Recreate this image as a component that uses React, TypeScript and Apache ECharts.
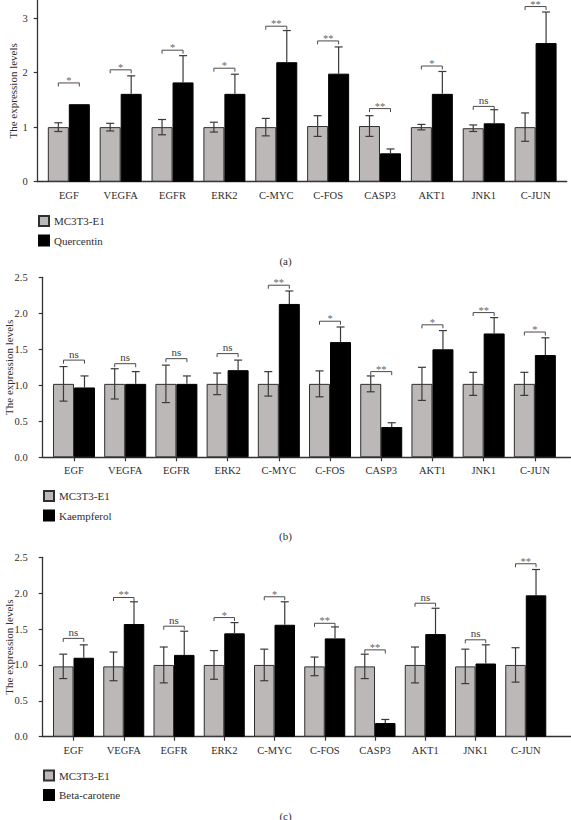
import React, { useEffect, useRef } from 'react';
import * as echarts from 'echarts';

// ---------- data ----------
const genes = ['EGF', 'VEGFA', 'EGFR', 'ERK2', 'C-MYC', 'C-FOS', 'CASP3', 'AKT1', 'JNK1', 'C-JUN'];
const controlName = 'MC3T3-E1';
const treatmentNames = ['Quercentin', 'Kaempferol', 'Beta-carotene'];
const panelLabels = ['(a)', '(b)', '(c)'];
const yTitle = 'The expression levels';

// panel (a)
const aCtrlMean = [1.0, 1.0, 1.0, 1.0, 1.0, 1.02, 1.02, 1.0, 0.98, 1.0];
const aCtrlSd = [0.08, 0.07, 0.14, 0.09, 0.16, 0.19, 0.19, 0.05, 0.06, 0.26];
const aTrtMean = [1.42, 1.61, 1.82, 1.61, 2.19, 1.98, 0.52, 1.61, 1.07, 2.54];
const aTrtSd = [0, 0.33, 0.49, 0.36, 0.58, 0.49, 0.08, 0.41, 0.25, 0.57];
const aBracket = [1.81, 2.05, 2.41, 2.08, 2.85, 2.58, 1.34, 2.12, 1.38, 3.21];
const aSig = ['*', '*', '*', '*', '**', '**', '**', '*', 'ns', '**'];

// panel (b)
const bCtrlMean = [1.02, 1.02, 1.02, 1.02, 1.02, 1.02, 1.02, 1.02, 1.02, 1.02];
const bCtrlSd = [0.24, 0.21, 0.26, 0.15, 0.17, 0.18, 0.11, 0.23, 0.16, 0.16];
const bTrtMean = [0.97, 1.02, 1.02, 1.21, 2.13, 1.6, 0.42, 1.5, 1.72, 1.42];
const bTrtSd = [0.16, 0.17, 0.11, 0.14, 0.18, 0.21, 0.06, 0.26, 0.22, 0.24];
const bBracket = [1.35, 1.3, 1.37, 1.44, 2.39, 1.89, 1.19, 1.84, 2.01, 1.74];
const bSig = ['ns', 'ns', 'ns', 'ns', '**', '*', '**', '*', '**', '*'];

// panel (c)
const cCtrlMean = [0.98, 0.98, 1.0, 1.0, 1.0, 0.98, 0.98, 1.0, 0.98, 1.0];
const cCtrlSd = [0.17, 0.2, 0.25, 0.2, 0.22, 0.13, 0.17, 0.25, 0.24, 0.24];
const cTrtMean = [1.1, 1.57, 1.14, 1.44, 1.56, 1.37, 0.19, 1.43, 1.02, 1.97];
const cTrtSd = [0.18, 0.31, 0.33, 0.15, 0.32, 0.16, 0.05, 0.36, 0.26, 0.36];
const cBracket = [1.37, 1.94, 1.54, 1.66, 1.95, 1.58, 1.21, 1.86, 1.35, 2.41];
const cSig = ['ns', '**', 'ns', '*', '*', '**', '**', 'ns', 'ns', '**'];

// tick values
const xTickValues = [0, 1, 2, 3, 4, 5, 6, 7, 8, 9];
const yTicksA = [0, 1, 2, 3];
const yTicksBC = [0, 0.5, 1.0, 1.5, 2.0, 2.5];

// ---------- style / layout ----------
const FONT = 'Liberation Serif';
const TEXT = '#2e2e2e';
const AXIS = '#333333';
const GRAY = '#bdb8b8';

const panels = [
  { ctrlMean: aCtrlMean, ctrlSd: aCtrlSd, trtMean: aTrtMean, trtSd: aTrtSd, bracket: aBracket, sig: aSig, yTicks: yTicksA, dec: 0 },
  { ctrlMean: bCtrlMean, ctrlSd: bCtrlSd, trtMean: bTrtMean, trtSd: bTrtSd, bracket: bBracket, sig: bSig, yTicks: yTicksBC, dec: 1 },
  { ctrlMean: cCtrlMean, ctrlSd: cCtrlSd, trtMean: cTrtMean, trtSd: cTrtSd, bracket: cBracket, sig: cSig, yTicks: yTicksBC, dec: 1 },
];

const layouts = [
  { left: 37.7, top: 0, width: 529, height: 181.7, xMin: -0.6, xMax: 9.6, yMax: 3.33, yInterval: 1, bw: 21, xTicks: false, yLabelMargin: 10, nameGap: 19, legendLeft: 38, legendTop: 215, titleTop: 255 },
  { left: 42.7, top: 277.3, width: 528, height: 180, xMin: -0.611, xMax: 9.7, yMax: 2.5, yInterval: 0.5, bw: 21, xTicks: true, yLabelMargin: 15, nameGap: 28, legendLeft: 43, legendTop: 490, titleTop: 530.5 },
  { left: 42.7, top: 557.3, width: 528.3, height: 179.4, xMin: -0.613, xMax: 9.9, yMax: 2.5, yInterval: 0.5, bw: 20.5, xTicks: true, yLabelMargin: 15, nameGap: 28, legendLeft: 43, legendTop: 769.5, titleTop: 810 },
];

function textEl(text: string, x: number, y: number, size: number, color: string) {
  return {
    type: 'text',
    x,
    y,
    style: {
      text,
      fontSize: size,
      fontFamily: FONT,
      fill: color,
      textFill: color,
      align: 'center',
      textAlign: 'center',
      verticalAlign: 'bottom',
      textVerticalAlign: 'bottom',
    },
  };
}

function buildOption() {
  const grid: any[] = [];
  const xAxis: any[] = [];
  const yAxis: any[] = [];
  const series: any[] = [];
  const legend: any[] = [];
  const title: any[] = [];

  panels.forEach((p, k) => {
    const L = layouts[k];
    grid.push({
      left: L.left,
      top: L.top,
      width: L.width,
      height: L.height,
      containLabel: false,
      outerBoundsMode: 'none',
    });
    xAxis.push({
      type: 'value',
      gridIndex: k,
      min: L.xMin,
      max: L.xMax,
      axisLine: { show: true, onZero: false, lineStyle: { color: AXIS, width: 1.3 } },
      axisTick: { show: L.xTicks, length: 4, customValues: xTickValues, lineStyle: { color: AXIS, width: 1.2 } },
      axisLabel: {
        customValues: xTickValues,
        margin: 8,
        fontSize: 10.5,
        fontFamily: FONT,
        color: TEXT,
        formatter: (v: number) => {
          const r = Math.round(v);
          return Math.abs(v - r) < 1e-6 && genes[r] ? genes[r] : '';
        },
      },
      splitLine: { show: false },
    });
    yAxis.push({
      type: 'value',
      gridIndex: k,
      min: 0,
      max: L.yMax,
      interval: L.yInterval,
      axisLine: { show: true, onZero: false, lineStyle: { color: AXIS, width: 1.3 } },
      axisTick: { show: true, length: 4, customValues: p.yTicks, lineStyle: { color: AXIS, width: 1.2 } },
      axisLabel: {
        customValues: p.yTicks,
        margin: L.yLabelMargin,
        fontSize: 10.5,
        fontFamily: FONT,
        color: TEXT,
        formatter: (v: number) => {
          const ok = p.yTicks.some((t) => Math.abs(t - v) < 1e-6);
          return ok ? v.toFixed(p.dec) : '';
        },
      },
      splitLine: { show: false },
      name: yTitle,
      nameLocation: 'middle',
      nameGap: L.nameGap,
      nameMoveOverlap: false,
      nameTextStyle: { fontSize: 11, fontFamily: FONT, color: TEXT },
    });

    const trtName = treatmentNames[k];
    series.push({
      type: 'bar',
      name: controlName,
      xAxisIndex: k,
      yAxisIndex: k,
      barWidth: L.bw,
      barGap: '0%',
      z: 2,
      data: p.ctrlMean.map((m, i) => [i, m]),
      itemStyle: { color: GRAY, borderColor: '#2f2f2f', borderWidth: 1 },
    });
    series.push({
      type: 'bar',
      name: trtName,
      xAxisIndex: k,
      yAxisIndex: k,
      barWidth: L.bw,
      barGap: '0%',
      z: 2,
      data: p.trtMean.map((m, i) => [i, m]),
      itemStyle: { color: '#000000', borderColor: '#000000', borderWidth: 1 },
    });

    const errSeries = (means: number[], sds: number[], side: number) => ({
      type: 'custom',
      name: 'err',
      xAxisIndex: k,
      yAxisIndex: k,
      z: 5,
      silent: true,
      data: means.map((m, i) => [i, m, sds[i]]),
      encode: { x: 0, y: 1 },
      renderItem: (params: any, api: any) => {
        const x = api.value(0);
        const m = api.value(1);
        const sd = api.value(2);
        if (!sd) return { type: 'group', children: [] };
        const base = api.coord([x, m]);
        const cx = base[0] + (side * L.bw) / 2;
        const yTop = api.coord([x, m + sd])[1];
        const yBot = side < 0 ? api.coord([x, m - sd])[1] : base[1];
        const st = { stroke: '#3a3a3a', lineWidth: 1.2 };
        const children: any[] = [
          { type: 'line', shape: { x1: cx, y1: yTop, x2: cx, y2: yBot }, style: st },
          { type: 'line', shape: { x1: cx - 4, y1: yTop, x2: cx + 4, y2: yTop }, style: st },
        ];
        if (side < 0) children.push({ type: 'line', shape: { x1: cx - 4, y1: yBot, x2: cx + 4, y2: yBot }, style: st });
        return { type: 'group', children };
      },
    });
    series.push(errSeries(p.ctrlMean, p.ctrlSd, -1));
    series.push(errSeries(p.trtMean, p.trtSd, 1));

    series.push({
      type: 'custom',
      name: 'sig',
      xAxisIndex: k,
      yAxisIndex: k,
      z: 6,
      silent: true,
      data: p.bracket.map((b, i) => [i, b]),
      encode: { x: 0, y: 1 },
      renderItem: (params: any, api: any) => {
        const x = api.value(0);
        const y = api.value(1);
        const c = api.coord([x, y]);
        const l = c[0] - L.bw / 2;
        const r = c[0] + L.bw / 2;
        const s = p.sig[params.dataIndex];
        const isNs = s === 'ns';
        return {
          type: 'group',
          children: [
            {
              type: 'polyline',
              shape: { points: [[l, c[1] + 3.5], [l, c[1]], [r, c[1]], [r, c[1] + 3.5]] },
              style: { stroke: '#4a4a4a', fill: 'none', lineWidth: 1 },
            },
            textEl(s, c[0], isNs ? c[1] - 1 : c[1] + 3, isNs ? 11 : 10.5, isNs ? '#3a3a3a' : '#666666'),
          ],
        };
      },
    });

    legend.push({
      data: [controlName, trtName],
      orient: 'vertical',
      left: L.legendLeft,
      top: L.legendTop,
      padding: 0,
      itemWidth: 10,
      itemHeight: 10,
      itemGap: 7.5,
      icon: 'rect',
      selectedMode: false,
      textStyle: { fontSize: 11, fontFamily: FONT, color: TEXT },
    });

    title.push({
      text: panelLabels[k],
      left: 'center',
      top: L.titleTop,
      padding: 0,
      textStyle: { fontSize: 11, fontWeight: 'normal', fontFamily: FONT, color: TEXT },
    });
  });

  return {
    animation: false,
    backgroundColor: '#ffffff',
    title,
    legend,
    grid,
    xAxis,
    yAxis,
    series,
  };
}

export default function App() {
  const ref = useRef<HTMLDivElement>(null);
  useEffect(() => {
    if (!ref.current) return;
    const chart = echarts.init(ref.current, undefined, { renderer: 'svg' });
    chart.setOption(buildOption() as any);
    return () => chart.dispose();
  }, []);
  return (
    <div
      ref={ref}
      style={{ position: 'absolute', left: 0, top: 0, width: 571, height: 820, background: '#fff' }}
    />
  );
}
